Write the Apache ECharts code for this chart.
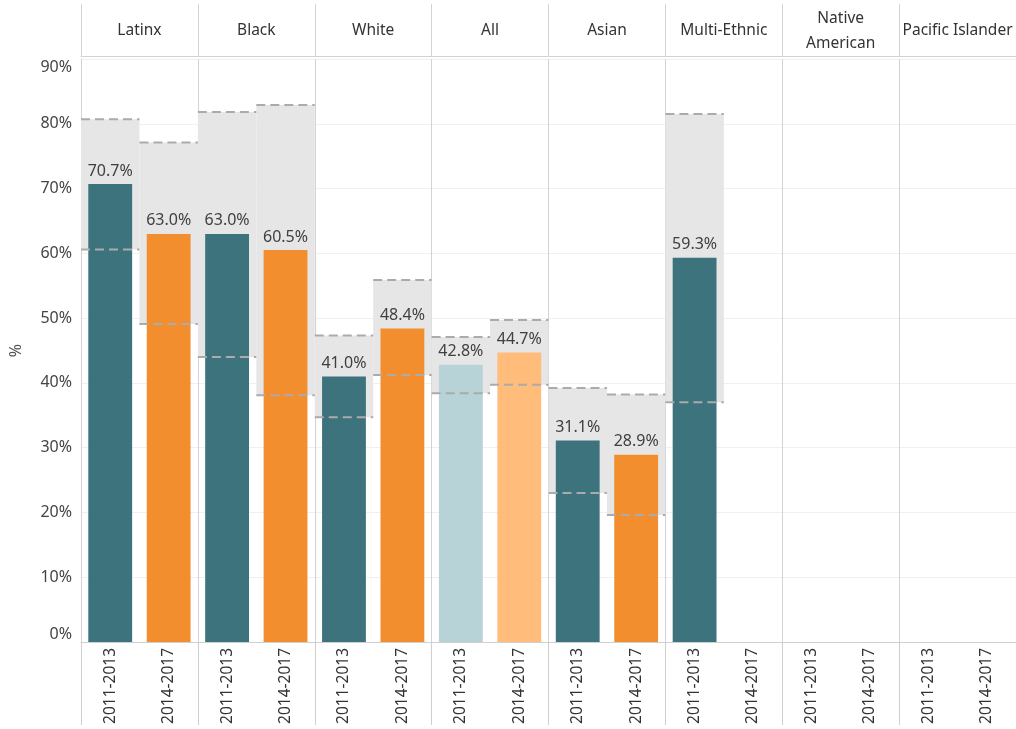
<!DOCTYPE html>
<html>
<head>
<meta charset="utf-8">
<script src="https://cdn.jsdelivr.net/npm/echarts@6/dist/echarts.min.js"></script>
<style>
  html, body { margin: 0; padding: 0; background: #ffffff; }
  #chart { width: 1016px; height: 729px; }
</style>
</head>
<body>
<div id="chart"></div>
<script>
// Groups shown as column panels, each with two periods
const groups = ['Latinx', 'Black', 'White', 'All', 'Asian', 'Multi-Ethnic', 'Native\nAmerican', 'Pacific Islander'];
const periods = ['2011-2013', '2014-2017'];

// Rate (%) per group for each period
const rate2011 = [70.7, 63.0, 41.0, 42.8, 31.1, 59.3, null, null];
const rate2014 = [63.0, 60.5, 48.4, 44.7, 28.9, null, null, null];

// Confidence interval bounds (%)
const low2011 = [60.6, 44.0, 34.7, 38.4, 23.0, 37.0, null, null];
const high2011 = [80.7, 81.8, 47.3, 47.1, 39.2, 81.5, null, null];
const low2014 = [49.1, 38.1, 41.2, 39.7, 19.6, null, null, null];
const high2014 = [77.1, 82.9, 55.9, 49.7, 38.2, null, null, null];

// Y axis ticks
const yMin = 0, yMax = 90, yStep = 10;

const FONT = '"Noto Sans", sans-serif';
const COLORS = {
  p2011: '#3c737d',
  p2014: '#f28e2e',
  all2011: '#b7d3d7',
  all2014: '#ffbc7b'
};

// Flatten into one category per (group, period)
const cats = [];
const barData = [];
const ciData = [];
groups.forEach((g, i) => {
  periods.forEach((p, j) => {
    const idx = cats.length;
    cats.push(p);
    const v = j === 0 ? rate2011[i] : rate2014[i];
    const lo = j === 0 ? low2011[i] : low2014[i];
    const hi = j === 0 ? high2011[i] : high2014[i];
    let color;
    if (g === 'All') color = j === 0 ? COLORS.all2011 : COLORS.all2014;
    else color = j === 0 ? COLORS.p2011 : COLORS.p2014;
    barData.push(v == null ? null : { value: v, itemStyle: { color } });
    if (lo != null && hi != null) ciData.push([idx, lo, hi]);
  });
});

function bandRect(params, api) {
  const c = api.value(0);
  const lo = api.coord([c, api.value(1)]);
  const hi = api.coord([c, api.value(2)]);
  const w = api.size([1, 0])[0];
  return {
    type: 'rect',
    shape: { x: lo[0] - w / 2, y: hi[1], width: w, height: lo[1] - hi[1] },
    style: { fill: '#e6e6e6' }
  };
}

function bandLines(params, api) {
  const c = api.value(0);
  const lo = api.coord([c, api.value(1)]);
  const hi = api.coord([c, api.value(2)]);
  const w = api.size([1, 0])[0];
  const style = { stroke: '#ababab', lineWidth: 2, lineDash: [9, 5] };
  return {
    type: 'group',
    children: [
      { type: 'line', shape: { x1: hi[0] - w / 2, y1: hi[1], x2: hi[0] + w / 2, y2: hi[1] }, style },
      { type: 'line', shape: { x1: lo[0] - w / 2, y1: lo[1], x2: lo[0] + w / 2, y2: lo[1] }, style }
    ]
  };
}

const chart = echarts.init(document.getElementById('chart'), null, { renderer: 'canvas' });

chart.setOption({
  animation: false,
  backgroundColor: '#ffffff',
  textStyle: { fontFamily: FONT },
  grid: { left: 81, right: 0, top: 59, bottom: 87, containLabel: false, outerBoundsMode: 'none' },
  xAxis: [
    {
      type: 'category',
      position: 'bottom',
      data: cats,
      axisLine: { show: true, lineStyle: { color: '#cfcfcf', width: 1 } },
      axisTick: {
        show: true,
        length: 83,
        interval: (i) => i % 2 === 0,
        lineStyle: { color: '#cfcfcf' }
      },
      axisLabel: {
        rotate: 90,
        margin: 6,
        interval: 0,
        fontSize: 15.5,
        fontFamily: FONT,
        color: '#333333'
      },
      splitLine: { show: false }
    },
    {
      type: 'category',
      position: 'top',
      offset: 3,
      data: groups,
      axisLine: { show: true, lineStyle: { color: '#d3d3d3', width: 1 } },
      axisTick: { show: true, length: 52, lineStyle: { color: '#d3d3d3' } },
      axisLabel: {
        interval: 0,
        margin: 25,
        verticalAlign: 'middle',
        lineHeight: 25,
        fontSize: 15.5,
        fontFamily: FONT,
        color: '#333333'
      },
      splitLine: { show: true, lineStyle: { color: '#d3d3d3', width: 1 } }
    }
  ],
  yAxis: {
    type: 'value',
    min: yMin,
    max: yMax,
    interval: yStep,
    name: '%',
    nameLocation: 'middle',
    nameGap: 57,
    nameRotate: 90,
    nameTextStyle: { fontSize: 16, color: '#555555', fontFamily: FONT },
    axisLine: { show: true, lineStyle: { color: '#d3d3d3' } },
    axisTick: { show: false },
    axisLabel: {
      formatter: '{value}%',
      fontSize: 16,
      margin: 9,
      color: '#444444',
      fontFamily: FONT,
      verticalAlignMinLabel: 'bottom',
      verticalAlignMaxLabel: 'top'
    },
    splitLine: { show: true, lineStyle: { color: '#f0f0f0', width: 1 } }
  },
  series: [
    {
      type: 'custom',
      name: 'ci-band',
      xAxisIndex: 0,
      z: 1,
      silent: true,
      renderItem: bandRect,
      encode: { x: 0, y: [1, 2] },
      data: ciData
    },
    {
      type: 'bar',
      name: 'rate',
      xAxisIndex: 0,
      z: 2,
      barWidth: '75%',
      data: barData,
      label: {
        show: true,
        position: 'top',
        distance: 5,
        fontSize: 16,
        fontFamily: FONT,
        color: '#404040',
        formatter: (p) => p.value.toFixed(1) + '%'
      }
    },
    {
      type: 'custom',
      name: 'ci-bounds',
      xAxisIndex: 0,
      z: 3,
      silent: true,
      renderItem: bandLines,
      encode: { x: 0, y: [1, 2] },
      data: ciData
    }
  ]
});
</script>
</body>
</html>
